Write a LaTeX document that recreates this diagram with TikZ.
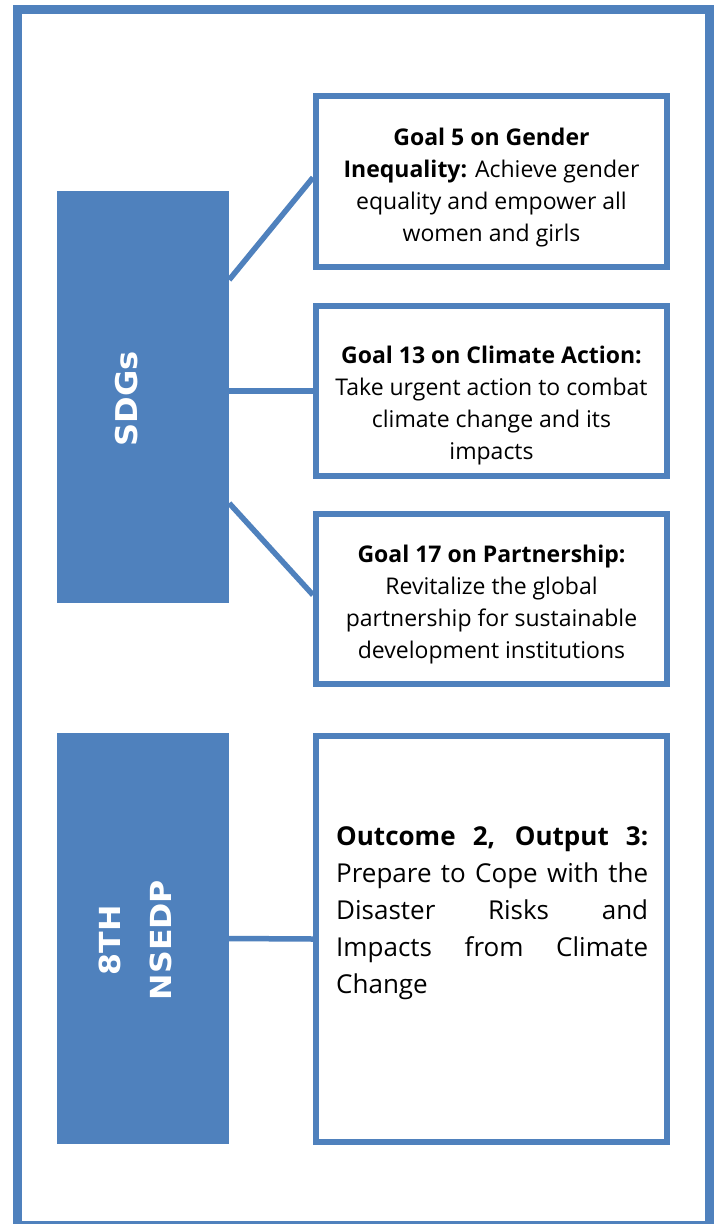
\documentclass[tikz,border=0pt]{standalone}
\usepackage{fontspec}
\setmainfont{Open Sans}
\newfontfamily\lblfont{DejaVu Sans}
\usetikzlibrary{calc}
\definecolor{sblue}{HTML}{4F81BD}
\begin{document}
\begin{tikzpicture}[x=1pt,y=-1pt,
  goalbox/.style={draw=sblue, line width=6pt, fill=white, inner sep=0pt,
    minimum width=351pt},
  goaltext/.style={inner sep=0pt, align=center, text=black,
    font=\fontsize{23}{32}\selectfont},
  darkbox/.style={fill=sblue, inner sep=0pt, minimum width=172pt},
  vlabel/.style={rotate=90, text=white, inner sep=0pt, align=center},
  conn/.style={draw=sblue, line width=5.5pt}]
\useasboundingbox (0,0) rectangle (715,1224);
\clip (0,0) rectangle (715,1224);
\fill[white] (0,0) rectangle (715,1224);
% outer frame
\draw[sblue, line width=9pt] (17.5,9.5) rectangle (709.5,1225.5);
% left blocks
\node[darkbox, minimum height=412pt] (sdg) at (143,397) {};
\node[darkbox, minimum height=411pt] (ns) at (143,938.5) {};
\node[vlabel, font=\lblfont\bfseries\fontsize{30}{40}\selectfont] (sdgt) at (127,399)
  {\scalebox{1.07}[1]{SDGs}};
\node[vlabel, font=\lblfont\bfseries\fontsize{29}{51}\selectfont] (nst) at (135.5,940)
  {\scalebox{1.09}[1]{8TH}\\\scalebox{1.09}[1]{NSEDP}};
% goal boxes
\node[goalbox, minimum height=171pt] (g5) at (491.5,181.5) {};
\node[goalbox, minimum height=170pt] (g13) at (491.5,391) {};
\node[goalbox, minimum height=170pt] (g17) at (491.5,599) {};
\node[goalbox, minimum height=406pt] (ob) at (491.5,939) {};
\node[goaltext] (g5t) at ([yshift=-6pt]g5.center)
  {\textbf{Goal 5 on Gender}\\\textbf{Inequality:} Achieve gender\\equality and empower all\\women and girls};
\node[goaltext] (g13t) at ([yshift=-15pt]g13.center)
  {\textbf{Goal 13 on Climate Action:}\\Take urgent action to combat\\climate change and its\\impacts};
\node[goaltext] (g17t) at ([yshift=-6pt]g17.center)
  {\textbf{Goal 17 on Partnership:}\\Revitalize the global\\partnership for sustainable\\development institutions};
\node[anchor=north west, text width=312pt, align=justify, inner sep=0pt,
  text=black, font=\fontsize{26}{37}\selectfont] (obt) at (336,826)
  {\noindent\textbf{Outcome 2, Output 3:}\linebreak Prepare to Cope with the\linebreak Disaster Risks and\linebreak Impacts from Climate\linebreak Change};
% connectors
\coordinate (a1) at ([yshift=-89pt]sdg.north east);
\coordinate (b1) at ([yshift=4pt]g5.west);
\coordinate (a3) at ([yshift=100pt]sdg.south east);
\coordinate (b3) at ([yshift=4pt]g17.west);
\draw[conn] (a1) -- (b1);
\draw[conn] (g13.west -| sdg.east) -- (g13.west);
\draw[conn] (a3) -- (b3);
\draw[conn] (ns.east) -- (ob.west);
\end{tikzpicture}
\end{document}
